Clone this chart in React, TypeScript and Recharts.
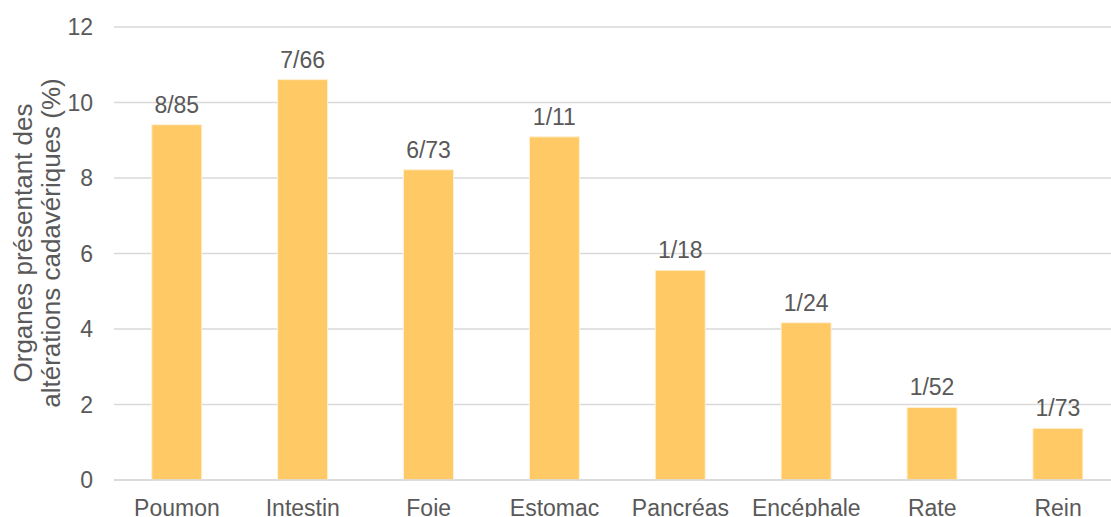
import { BarChart, Bar, XAxis, YAxis, CartesianGrid, LabelList } from 'recharts';

// organs examined, with affected / total counts
const organs = ['Poumon', 'Intestin', 'Foie', 'Estomac', 'Pancréas', 'Encéphale', 'Rate', 'Rein'];
const affected = [8, 7, 6, 1, 1, 1, 1, 1];
const examined = [85, 66, 73, 11, 18, 24, 52, 73];
const yTicks = [0, 2, 4, 6, 8, 10, 12];

const data = organs.map((organ, i) => ({
  organ,
  pct: (affected[i] / examined[i]) * 100,
  ratio: `${affected[i]}/${examined[i]}`,
}));

const FONT = '"Liberation Sans", Arial, sans-serif';
const TEXT = '#595959';
const GRID = '#d9d9d9';
const BAR = '#ffca65';

function AxisTitle() {
  const cy = 243;
  return (
    <g fill={TEXT} fontSize={26} fontFamily={FONT}>
      <text x={32} y={cy} textAnchor="middle" transform={`rotate(-90, 32, ${cy})`}>
        Organes présentant des
      </text>
      <text x={60} y={cy} textAnchor="middle" transform={`rotate(-90, 60, ${cy})`}>
        altérations cadavériques (%)
      </text>
    </g>
  );
}

export default function App() {
  return (
    <div
      style={{
        position: 'fixed',
        top: 0,
        left: 0,
        width: 1111,
        height: 517,
        overflow: 'hidden',
        background: '#fff',
      }}
    >
      <BarChart
        width={1140}
        height={540}
        data={data}
        margin={{ top: 27, right: 19, bottom: 0, left: 0 }}
        barCategoryGap="30%"
        style={{ fontFamily: FONT }}
      >
        <CartesianGrid vertical={false} stroke={GRID} strokeWidth={1.5} />
        <XAxis
          dataKey="organ"
          height={60}
          tickLine={false}
          tickSize={0}
          tickMargin={20}
          axisLine={{ stroke: GRID, strokeWidth: 1.5 }}
          tick={{ fill: TEXT, fontSize: 23 }}
          interval={0}
        />
        <YAxis
          width={114}
          domain={[0, 12]}
          ticks={yTicks}
          axisLine={false}
          tickLine={false}
          tickSize={0}
          tickMargin={21}
          tick={{ fill: TEXT, fontSize: 23 }}
          label={{ content: () => <AxisTitle /> }}
        />
        <Bar dataKey="pct" fill={BAR} stroke="#fff1d6" strokeWidth={1} isAnimationActive={false}>
          <LabelList
            dataKey="ratio"
            position="top"
            offset={12}
            fill={TEXT}
            fontSize={23}
            fontFamily={FONT}
          />
        </Bar>
      </BarChart>
    </div>
  );
}
